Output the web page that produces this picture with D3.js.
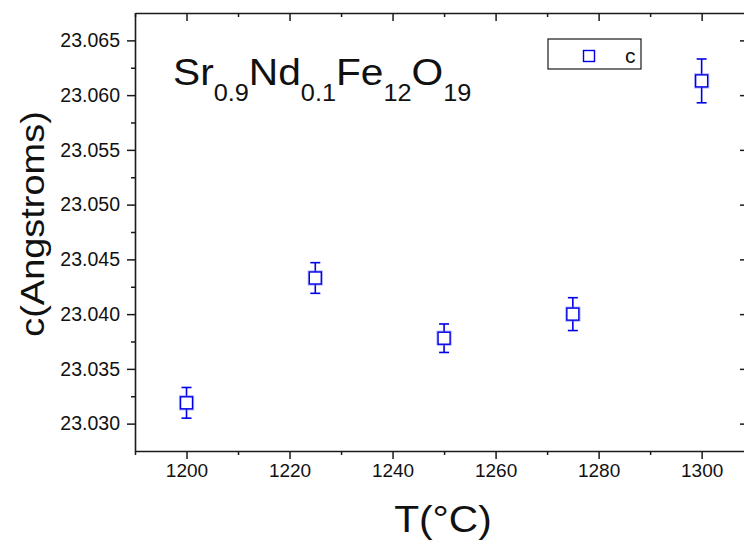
<!DOCTYPE html>
<html>
<head>
<meta charset="utf-8">
<script src="https://cdn.jsdelivr.net/npm/d3@7"></script>
<style>
  body { margin: 0; background: #fff; }
  svg text { font-family: 'Liberation Sans', Arial, sans-serif; fill: #111; }
</style>
</head>
<body>
<div id="chart"></div>
<script>
'use strict';

// values
const temps = [1200, 1225, 1250, 1275, 1300];
const cValues = [23.0319, 23.0433, 23.0378, 23.0400, 23.0613];
const cErrors = [0.0014, 0.0014, 0.0013, 0.0015, 0.0020];

// tick values
const xMajorTicks = [1200, 1220, 1240, 1260, 1280, 1300];
const xMinorTicks = [1190, 1210, 1230, 1250, 1270, 1290];
const yMajorTicks = [23.030, 23.035, 23.040, 23.045, 23.050, 23.055, 23.060, 23.065];
const yMinorTicks = [23.0325, 23.0375, 23.0425, 23.0475, 23.0525, 23.0575, 23.0625];

// labels
const seriesName = 'c';
const xTitle = 'T(°C)';
const yTitle = 'c(Angstroms)';
const formula = [['Sr', false], ['0.9', true], ['Nd', false], ['0.1', true],
                 ['Fe', false], ['12', true], ['O', false], ['19', true]];

const W = 744, H = 543;
const frame = { left: 135, right: 748, top: 13, bottom: 451 };
const blue = '#0000e6';

function init(selector) {

    let svg = d3.select(selector).append('svg')
        .attr('width', W)
        .attr('height', H);

    let x = d3.scaleLinear().domain([1190, 1309]).range([frame.left, frame.right]);
    let y = d3.scaleLinear().domain([23.0275, 23.0675]).range([frame.bottom, frame.top]);

    // style an axis group the same way every time
    function styleAxis(g, fontSize) {
        g.attr('font-family', null).attr('font-size', fontSize);
        g.selectAll('path.domain').attr('stroke', '#1a1a1a').attr('stroke-width', 1.6);
        g.selectAll('.tick line').attr('stroke', '#1a1a1a').attr('stroke-width', 1.5);
        g.selectAll('.tick text').attr('fill', '#111');
    }

    // bottom axis, majors with labels then minors
    svg.append('g')
        .attr('transform', `translate(0, ${frame.bottom})`)
        .call(d3.axisBottom(x).tickValues(xMajorTicks).tickSize(8).tickSizeOuter(0)
            .tickPadding(5).tickFormat(d3.format('d')))
        .call(g => styleAxis(g, 19));
    svg.append('g')
        .attr('transform', `translate(0, ${frame.bottom})`)
        .call(d3.axisBottom(x).tickValues(xMinorTicks).tickSize(4).tickFormat(''))
        .call(g => { styleAxis(g, 0); g.select('.domain').remove(); });

    // top axis, ticks point inward
    svg.append('g')
        .attr('transform', `translate(0, ${frame.top})`)
        .call(d3.axisTop(x).tickValues(xMajorTicks).tickSize(-8).tickSizeOuter(0).tickFormat(''))
        .call(g => styleAxis(g, 0));
    svg.append('g')
        .attr('transform', `translate(0, ${frame.top})`)
        .call(d3.axisTop(x).tickValues(xMinorTicks).tickSize(-4).tickFormat(''))
        .call(g => { styleAxis(g, 0); g.select('.domain').remove(); });

    // left axis
    svg.append('g')
        .attr('transform', `translate(${frame.left}, 0)`)
        .call(d3.axisLeft(y).tickValues(yMajorTicks).tickSize(8).tickSizeOuter(0)
            .tickPadding(7).tickFormat(d3.format('.3f')))
        .call(g => styleAxis(g, 19.5));
    svg.append('g')
        .attr('transform', `translate(${frame.left}, 0)`)
        .call(d3.axisLeft(y).tickValues(yMinorTicks).tickSize(4).tickFormat(''))
        .call(g => { styleAxis(g, 0); g.select('.domain').remove(); });

    // right axis, ticks inward
    svg.append('g')
        .attr('transform', `translate(${frame.right}, 0)`)
        .call(d3.axisRight(y).tickValues(yMajorTicks).tickSize(-8).tickSizeOuter(0).tickFormat(''))
        .call(g => styleAxis(g, 0));

    // data: error bars + open squares
    let pts = temps.map((t, i) => ({ t: t, c: cValues[i], e: cErrors[i] }));
    let marks = svg.append('g').attr('class', 'series');

    let bars = marks.selectAll('g.err').data(pts).join('g').attr('class', 'err')
        .attr('stroke', blue).attr('stroke-width', 1.6).attr('fill', 'none');
    bars.append('line')
        .attr('x1', d => x(d.t)).attr('x2', d => x(d.t))
        .attr('y1', d => y(d.c + d.e)).attr('y2', d => y(d.c - d.e));
    bars.append('line')
        .attr('x1', d => x(d.t) - 5).attr('x2', d => x(d.t) + 5)
        .attr('y1', d => y(d.c + d.e)).attr('y2', d => y(d.c + d.e));
    bars.append('line')
        .attr('x1', d => x(d.t) - 5).attr('x2', d => x(d.t) + 5)
        .attr('y1', d => y(d.c - d.e)).attr('y2', d => y(d.c - d.e));

    let sq = 12;
    // soft halo then the square itself
    marks.selectAll('rect.halo').data(pts).join('rect').attr('class', 'halo')
        .attr('x', d => x(d.t) - sq / 2).attr('y', d => y(d.c) - sq / 2)
        .attr('width', sq).attr('height', sq)
        .attr('fill', 'none').attr('stroke', '#6a6aff').attr('stroke-width', 3.2)
        .attr('stroke-opacity', 0.55);
    marks.selectAll('rect.pt').data(pts).join('rect').attr('class', 'pt')
        .attr('x', d => x(d.t) - sq / 2).attr('y', d => y(d.c) - sq / 2)
        .attr('width', sq).attr('height', sq)
        .attr('fill', '#fff').attr('stroke', blue).attr('stroke-width', 1.4);

    // axis titles
    svg.append('text')
        .attr('transform', `translate(443, 532) scale(1.1, 1)`)
        .attr('text-anchor', 'middle')
        .attr('font-size', 37)
        .text(xTitle);

    svg.append('text')
        .attr('transform', `translate(44, 224) rotate(-90) scale(1.15, 1)`)
        .attr('text-anchor', 'middle')
        .attr('font-size', 33)
        .text(yTitle);

    // compound formula
    let title = svg.append('text')
        .attr('transform', `translate(173, 85) scale(1.1, 1)`)
        .attr('font-size', 37);
    let shifted = false;
    formula.forEach(([s, sub]) => {
        let dy = 0;
        if (sub && !shifted) { dy = 16; shifted = true; }
        if (!sub && shifted) { dy = -16; shifted = false; }
        title.append('tspan')
            .attr('dy', dy)
            .attr('font-size', sub ? 23 : 37)
            .text(s);
    });

    // legend
    let legend = svg.append('g').attr('class', 'legend');
    legend.append('rect')
        .attr('x', 548).attr('y', 39).attr('width', 93).attr('height', 30)
        .attr('fill', '#fff').attr('stroke', '#1a1a1a').attr('stroke-width', 1.2);
    legend.append('rect')
        .attr('x', 583.5).attr('y', 50.5).attr('width', 11).attr('height', 11)
        .attr('fill', 'none').attr('stroke', blue).attr('stroke-width', 1.4);
    legend.append('text')
        .attr('x', 625).attr('y', 63)
        .attr('font-size', 21)
        .text(seriesName);
}

init('#chart');
</script>
</body>
</html>
